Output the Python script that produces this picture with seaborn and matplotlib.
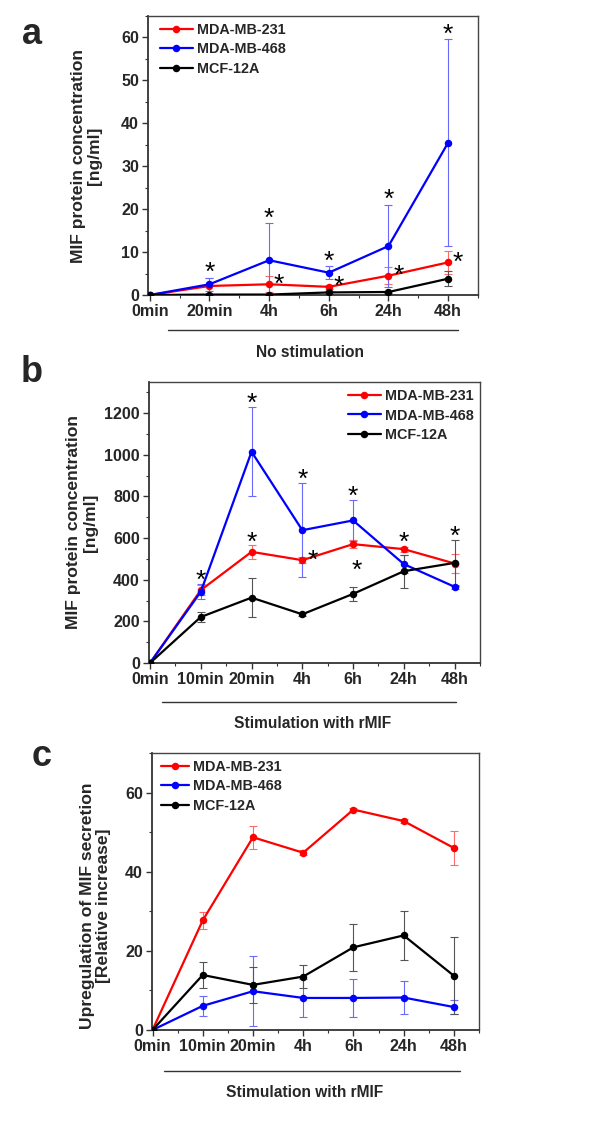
import numpy as np
import pandas as pd
import matplotlib
matplotlib.use("Agg")
import matplotlib.pyplot as plt
import matplotlib.transforms as mtransforms
from matplotlib.ticker import MultipleLocator
import seaborn as sns

# ---------------- data ----------------
series = ["MDA-MB-231", "MDA-MB-468", "MCF-12A"]

times_a = ["0min", "20min", "4h", "6h", "24h", "48h"]
a_231 = [0, 2.1, 2.5, 1.9, 4.5, 7.6]
a_231_sd = [0, 1.8, 1.9, 0.4, 2.0, 2.7]
a_468 = [0, 2.5, 8.1, 5.2, 11.4, 35.5]
a_468_sd = [0, 1.5, 8.6, 1.5, 9.6, 24.1]
a_12a = [0, 0.1, 0.1, 0.6, 0.7, 3.8]
a_12a_sd = [0, 0.2, 0.2, 0.3, 0.3, 1.7]

times_bc = ["0min", "10min", "20min", "4h", "6h", "24h", "48h"]
b_231 = [0, 350, 534, 494, 571, 547, 478]
b_231_sd = [0, 25, 35, 15, 19, 12, 45]
b_468 = [0, 342, 1015, 638, 685, 475, 366]
b_468_sd = [0, 36, 213, 225, 98, 43, 10]
b_12a = [0, 221, 314, 234, 332, 441, 481]
b_12a_sd = [0, 24, 92, 8, 34, 80, 110]

c_231 = [0, 27.7, 48.7, 44.8, 55.7, 52.8, 46.0]
c_231_sd = [0, 2.2, 2.9, 0.7, 0.3, 0.5, 4.4]
c_468 = [0, 6.1, 9.8, 8.1, 8.1, 8.2, 5.8]
c_468_sd = [0, 2.6, 8.8, 4.8, 4.9, 4.2, 1.7]
c_12a = [0, 13.9, 11.4, 13.5, 20.9, 23.9, 13.7]
c_12a_sd = [0, 3.4, 4.6, 2.9, 6.0, 6.1, 9.7]

# significance marks: (time label, kind)
stars_a = [("20min", "top"), ("4h", "top"), ("6h", "top"), ("24h", "top"), ("48h", "top"),
           ("4h", "right"), ("6h", "right"), ("24h", "right"), ("48h", "right")]
stars_b = [("10min", "top"), ("20min", "top"), ("4h", "top"), ("6h", "top"), ("24h", "top"),
           ("48h", "top"), ("20min", "red_top"), ("4h", "right"), ("6h", "below")]

# ---------------- style ----------------
sns.set_theme(style="ticks")
plt.rcParams["font.family"] = ["Liberation Sans", "DejaVu Sans"]
plt.rcParams["font.weight"] = "bold"
plt.rcParams["axes.labelweight"] = "bold"

line_colors = {"MDA-MB-231": "#ff0000", "MDA-MB-468": "#0000ff", "MCF-12A": "#000000"}
err_colors = {"MDA-MB-231": "#ff6a6a", "MDA-MB-468": "#6a6aff", "MCF-12A": "#555555"}

fig = plt.figure(figsize=(6.0, 11.3), dpi=100)
STAR_PT = 19


def make_df(times, means, sds):
    rows = []
    for s, m, e in zip(series, means, sds):
        for i, (t, v, sd) in enumerate(zip(times, m, e)):
            rows.append(dict(pos=i, time=t, series=s, value=v, sd=sd))
    return pd.DataFrame(rows)


def panel(rect, times, means, sds, ylim, ymajor, yminor, ylabel, group_label,
          legend_anchor, handlelen, line_x, line_y, text_xy, letter, letter_xy, ylabel_x,
          ylabel_y=0.5, xlim_left=-0.03, stars=None, star_pad=12):
    ax = fig.add_axes(rect)
    df = make_df(times, means, sds)
    for s in series:
        d = df[df.series == s]
        ax.errorbar(d.pos, d.value, yerr=d.sd, fmt="none", ecolor=err_colors[s],
                    elinewidth=0.8, capsize=2.6, capthick=0.8, zorder=2)
    sns.lineplot(data=df, x="pos", y="value", hue="series", hue_order=series,
                 palette=line_colors, marker="o", markersize=5.4, markeredgewidth=0,
                 linewidth=1.6, estimator=None, sort=False, ax=ax, zorder=3)
    leg = ax.get_legend()
    handles = leg.legend_handles
    labels = [t.get_text() for t in leg.get_texts()]
    leg.remove()
    for h in handles:
        h.set_linewidth(1.6)
        h.set_markersize(5.4)
    ax.legend(handles, labels, loc="upper left", bbox_to_anchor=legend_anchor,
              frameon=False, borderpad=0, borderaxespad=0, handlelength=handlelen,
              handletextpad=0.3, labelspacing=0.38,
              prop=dict(weight="bold", size=10.4))

    n = len(times)
    ax.set_xlim(xlim_left, n - 0.5)
    ax.set_ylim(*ylim)
    ax.set_xticks(range(n))
    ax.set_xticklabels(times)
    ax.xaxis.set_minor_locator(MultipleLocator(0.5))
    ax.yaxis.set_major_locator(MultipleLocator(ymajor))
    ax.yaxis.set_minor_locator(MultipleLocator(yminor))
    ax.tick_params(axis="both", which="major", direction="out", length=4, width=1,
                   labelsize=11.6, pad=2.5, color="#333333")
    ax.tick_params(axis="both", which="minor", direction="out", length=2.5, width=0.8,
                   color="#333333")
    for lab in ax.get_xticklabels() + ax.get_yticklabels():
        lab.set_fontweight("bold")
    ax.set_xlabel("")
    ax.set_ylabel(ylabel, fontsize=12.6, fontweight="bold", linespacing=1.1)
    ax.yaxis.set_label_coords(ylabel_x, ylabel_y)
    for side in ["left", "bottom"]:
        ax.spines[side].set_linewidth(1.3)
        ax.spines[side].set_color("#333333")
    for side in ["top", "right"]:
        ax.spines[side].set_visible(True)
        ax.spines[side].set_linewidth(1.0)
        ax.spines[side].set_color("#444444")

    trans = mtransforms.blended_transform_factory(ax.transData, ax.transAxes)
    ax.plot(line_x, [line_y, line_y], transform=trans, clip_on=False,
            color="#333333", lw=1.0)
    ax.text(text_xy[0], text_xy[1], group_label, transform=ax.transAxes,
            ha="center", va="center", fontsize=11.2, fontweight="bold")
    fig.text(letter_xy[0], letter_xy[1], letter, fontsize=26, fontweight="bold",
             ha="center", va="center")

    if stars:
        px_per_pt = 100 / 72.0
        glyph_shift = 0.32 * STAR_PT * px_per_pt
        for t, kind in stars:
            i = times.index(t)
            sub = df[df.pos == i]
            if kind == "top":
                y = (sub.value + sub.sd).max()
                dx, dy = 0, star_pad
            elif kind == "red_top":
                r = sub[sub.series == series[0]].iloc[0]
                y = r.value + r.sd
                dx, dy = 0, star_pad - 2
            elif kind == "right":
                r = sub[sub.series == series[0]].iloc[0]
                y = r.value
                dx, dy = 10, 8
            else:  # below
                r = sub[sub.series == series[0]].iloc[0]
                y = r.value - r.sd
                dx, dy = 4, -14
            ax.annotate("*", (i, y),
                        xytext=(dx / px_per_pt, (dy - glyph_shift) / px_per_pt),
                        textcoords="offset points", ha="center", va="center",
                        fontsize=STAR_PT, fontweight="normal", color="black",
                        annotation_clip=False, zorder=5)
    return ax


W, H = 600.0, 1130.0


def rect(l, r, t, b):
    return [l / W, 1 - b / H, (r - l) / W, (b - t) / H]


# panel a
panel(rect(148, 478, 16, 295), times_a,
      [a_231, a_468, a_12a], [a_231_sd, a_468_sd, a_12a_sd],
      (0, 65), 10, 5, "MIF protein concentration\n[ng/ml]", "No stimulation",
      (0.035, 0.975), 2.3, [0.3, 5.17], -0.125, (0.49, -0.205),
      "a", (32 / W, 1 - 35 / H), -0.14, stars=stars_a, star_pad=13)

# panel b
panel(rect(149, 480, 382, 663), times_bc,
      [b_231, b_468, b_12a], [b_231_sd, b_468_sd, b_12a_sd],
      (0, 1350), 200, 100, "MIF protein concentration\n[ng/ml]", "Stimulation with rMIF",
      (0.6, 0.975), 2.3, [0.24, 6.02], -0.139, (0.495, -0.215),
      "b", (32 / W, 1 - 373 / H), -0.155, xlim_left=-0.02, stars=stars_b, star_pad=12)

# panel c
panel(rect(152, 479, 753, 1030), times_bc,
      [c_231, c_468, c_12a], [c_231_sd, c_468_sd, c_12a_sd],
      (0, 70), 20, 10, "Upregulation of MIF secretion\n[Relative increase]",
      "Stimulation with rMIF",
      (0.028, 0.975), 1.9, [0.22, 6.12], -0.148, (0.468, -0.225),
      "c", (42 / W, 1 - 756 / H), -0.125, ylabel_y=0.45, xlim_left=-0.01)

fig.savefig("out.png", dpi=100)
